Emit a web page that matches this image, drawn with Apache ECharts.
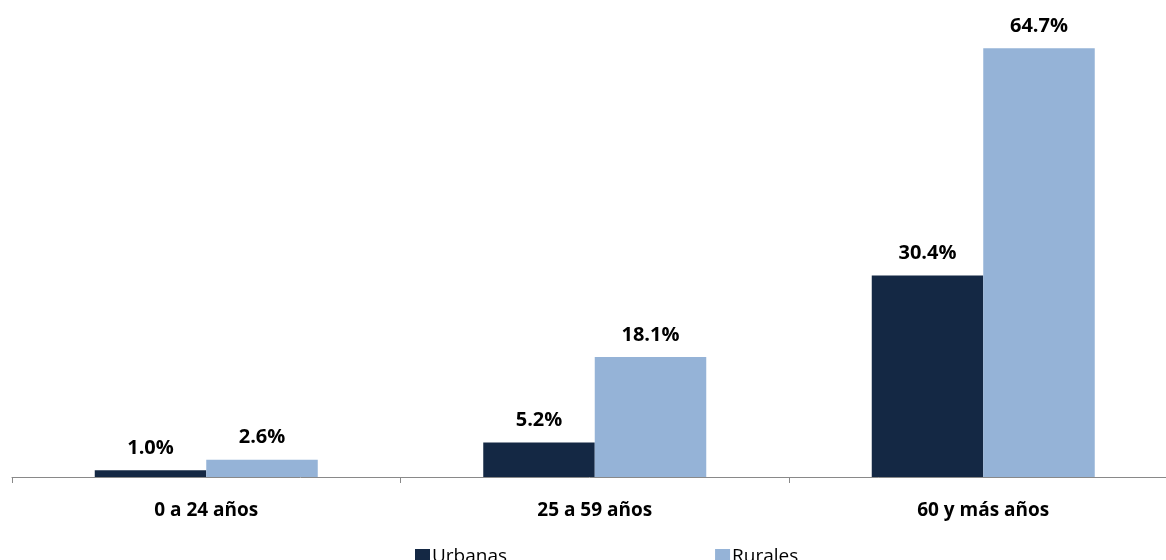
<!DOCTYPE html>
<html>
<head>
<meta charset="utf-8">
<script src="https://cdn.jsdelivr.net/npm/echarts@6/dist/echarts.min.js"></script>
<style>
  html, body { margin: 0; padding: 0; background: #ffffff; }
  #chart { width: 1166px; height: 560px; }
</style>
</head>
<body>
<div id="chart"></div>
<script>
// Age groups and share per group (%)
const categories = ['0 a 24 años', '25 a 59 años', '60 y más años'];
const urbanas = [1.0, 5.2, 30.4];
const rurales = [2.6, 18.1, 64.7];
const seriesNames = ['Urbanas', 'Rurales'];
const colors = ['#142844', '#95B3D7'];

const chart = echarts.init(document.getElementById('chart'));

const valueLabel = {
  show: true,
  position: 'top',
  distance: 12,
  formatter: p => p.value.toFixed(1) + '%',
  fontFamily: 'Open Sans',
  fontWeight: 'bold',
  fontSize: 20,
  color: '#000000'
};

chart.setOption({
  animation: false,
  // the plot runs past the right edge, so the last category band is wider than the view
  grid: { left: 12, width: 1165.5, top: 13, bottom: 83, outerBoundsMode: 'none', containLabel: false },
  legend: {
    data: seriesNames,
    left: 410,
    top: 542,
    itemWidth: 15,
    itemHeight: 15,
    itemGap: 208,
    icon: 'rect',
    textStyle: { fontFamily: 'Open Sans', fontSize: 19, color: '#000000', padding: [0, 0, 0, -3] }
  },
  xAxis: {
    type: 'category',
    data: categories,
    axisLine: { lineStyle: { color: '#898989', width: 1 } },
    axisTick: { show: true, length: 6, lineStyle: { color: '#898989' } },
    axisLabel: {
      fontFamily: 'Open Sans',
      fontWeight: 'bold',
      fontSize: 19,
      color: '#000000',
      margin: 24
    }
  },
  yAxis: {
    type: 'value',
    min: 0,
    max: 70,
    show: false,
    splitLine: { show: false }
  },
  series: [
    {
      name: seriesNames[0],
      type: 'bar',
      data: urbanas,
      barWidth: 111.5,
      barGap: '0%',
      itemStyle: { color: colors[0] },
      label: valueLabel
    },
    {
      name: seriesNames[1],
      type: 'bar',
      data: rurales,
      barWidth: 111.5,
      barGap: '0%',
      itemStyle: { color: colors[1] },
      label: valueLabel
    }
  ]
});
</script>
</body>
</html>
